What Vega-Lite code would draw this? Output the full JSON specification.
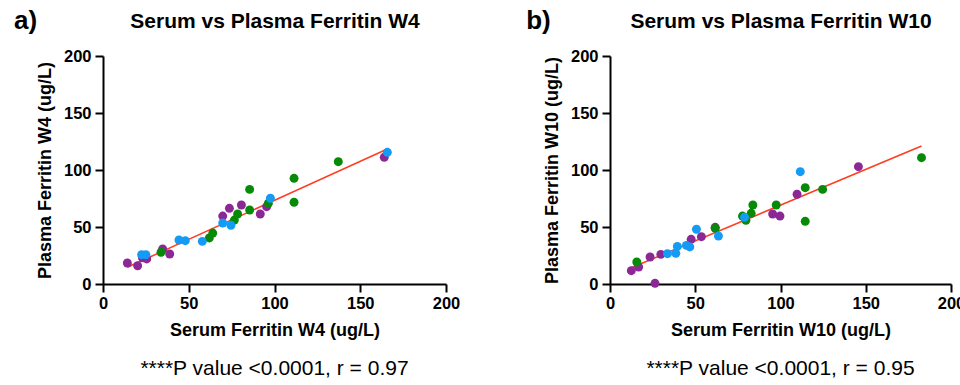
{
  "$schema": "https://vega.github.io/schema/vega-lite/v6.json",
  "padding": {"left": 13, "top": 7, "right": 0, "bottom": 0},
  "spacing": 65,
  "config": {
    "font": "Liberation Sans",
    "view": {"stroke": null},
    "axis": {
      "grid": false,
      "domainColor": "black",
      "domainWidth": 2,
      "tickColor": "black",
      "tickWidth": 2,
      "tickSize": 8,
      "labelColor": "black",
      "labelFont": "Liberation Sans",
      "labelFontSize": 16.5,
      "labelFontWeight": "bold",
      "labelFlush": false,
      "labelOverlap": false,
      "titleColor": "black",
      "titleFont": "Liberation Sans",
      "titleFontSize": 18,
      "titleFontWeight": "bold"
    },
    "title": {"font": "Liberation Sans", "color": "black"}
  },
  "datasets": {
    "w4": [
      {"group": "P", "serum": 14.2, "plasma": 18.4},
      {"group": "P", "serum": 20.2, "plasma": 16.0},
      {"group": "P", "serum": 23.0, "plasma": 23.0},
      {"group": "P", "serum": 25.5, "plasma": 22.0},
      {"group": "P", "serum": 34.8, "plasma": 30.7},
      {"group": "P", "serum": 38.9, "plasma": 26.3},
      {"group": "P", "serum": 69.8, "plasma": 59.6},
      {"group": "P", "serum": 73.7, "plasma": 66.4},
      {"group": "P", "serum": 80.7, "plasma": 69.3},
      {"group": "P", "serum": 91.7, "plasma": 61.4},
      {"group": "P", "serum": 95.4, "plasma": 67.8},
      {"group": "P", "serum": 164.0, "plasma": 111.1},
      {"group": "G", "serum": 33.8, "plasma": 27.8},
      {"group": "G", "serum": 62.0, "plasma": 40.4},
      {"group": "G", "serum": 64.0, "plasma": 44.7},
      {"group": "G", "serum": 76.6, "plasma": 56.1},
      {"group": "G", "serum": 78.5, "plasma": 61.4},
      {"group": "G", "serum": 85.5, "plasma": 83.0},
      {"group": "G", "serum": 85.5, "plasma": 64.9},
      {"group": "G", "serum": 96.4, "plasma": 70.8},
      {"group": "G", "serum": 111.4, "plasma": 92.7},
      {"group": "G", "serum": 111.4, "plasma": 71.7},
      {"group": "G", "serum": 137.2, "plasma": 107.3},
      {"group": "B", "serum": 22.5, "plasma": 25.7},
      {"group": "B", "serum": 25.0, "plasma": 25.7},
      {"group": "B", "serum": 44.3, "plasma": 38.6},
      {"group": "B", "serum": 48.0, "plasma": 38.0},
      {"group": "B", "serum": 57.9, "plasma": 37.4},
      {"group": "B", "serum": 69.8, "plasma": 53.5},
      {"group": "B", "serum": 74.6, "plasma": 51.5},
      {"group": "B", "serum": 97.6, "plasma": 75.2},
      {"group": "B", "serum": 165.8, "plasma": 115.5}
    ],
    "w10": [
      {"group": "P", "serum": 12.5, "plasma": 11.7},
      {"group": "P", "serum": 16.8, "plasma": 14.9},
      {"group": "P", "serum": 23.5, "plasma": 23.7},
      {"group": "P", "serum": 26.4, "plasma": 0.6},
      {"group": "P", "serum": 29.8, "plasma": 26.0},
      {"group": "P", "serum": 47.6, "plasma": 39.2},
      {"group": "P", "serum": 53.6, "plasma": 41.5},
      {"group": "P", "serum": 61.7, "plasma": 49.7},
      {"group": "P", "serum": 95.4, "plasma": 61.4},
      {"group": "P", "serum": 99.7, "plasma": 59.6},
      {"group": "P", "serum": 109.7, "plasma": 78.7},
      {"group": "P", "serum": 145.7, "plasma": 102.9},
      {"group": "G", "serum": 15.7, "plasma": 19.3},
      {"group": "G", "serum": 61.7, "plasma": 48.9},
      {"group": "G", "serum": 77.7, "plasma": 59.6},
      {"group": "G", "serum": 79.7, "plasma": 55.9},
      {"group": "G", "serum": 82.8, "plasma": 62.0},
      {"group": "G", "serum": 83.8, "plasma": 69.3},
      {"group": "G", "serum": 97.5, "plasma": 69.3},
      {"group": "G", "serum": 114.5, "plasma": 84.5},
      {"group": "G", "serum": 114.5, "plasma": 55.0},
      {"group": "G", "serum": 124.7, "plasma": 83.0},
      {"group": "G", "serum": 182.7, "plasma": 110.8},
      {"group": "B", "serum": 33.7, "plasma": 26.6},
      {"group": "B", "serum": 38.6, "plasma": 26.9},
      {"group": "B", "serum": 39.5, "plasma": 33.0},
      {"group": "B", "serum": 44.8, "plasma": 33.9},
      {"group": "B", "serum": 46.8, "plasma": 32.5},
      {"group": "B", "serum": 50.7, "plasma": 48.0},
      {"group": "B", "serum": 63.6, "plasma": 42.1},
      {"group": "B", "serum": 78.9, "plasma": 58.5},
      {"group": "B", "serum": 111.6, "plasma": 98.5}
    ],
    "fit4": [
      {"serum": 14.2, "plasma": 14.7},
      {"serum": 165.8, "plasma": 118.4}
    ],
    "fit10": [
      {"serum": 12.5, "plasma": 14.3},
      {"serum": 182.7, "plasma": 121.0}
    ]
  },
  "hconcat": [
    {
      "width": 343,
      "height": 228,
      "title": {"text": "****P value <0.0001, r = 0.97", "orient": "bottom", "anchor": "middle", "frame": "group", "fontSize": 21, "fontWeight": "normal", "offset": 18},
      "resolve": {"axis": {"x": "independent", "y": "independent"}},
      "layer": [
        {
          "data": {"name": "fit4"},
          "mark": {"type": "line", "color": "#FF3C1E", "strokeWidth": 1.5},
          "encoding": {
            "x": {"field": "serum", "type": "quantitative", "scale": {"domain": [0, 200], "nice": false},
                  "axis": {"orient": "top", "title": "Serum vs Plasma Ferritin W4", "domain": false, "ticks": false, "labels": false, "titleFontSize": 21, "titleY": -29, "titleBaseline": "alphabetic"}},
            "y": {"field": "plasma", "type": "quantitative", "scale": {"domain": [0, 200], "nice": false},
                  "axis": {"orient": "right", "title": "a)", "domain": false, "ticks": false, "labels": false, "titleAngle": 0, "titleFontSize": 26, "titleX": -432.5, "titleY": -28, "titleAlign": "left", "titleBaseline": "alphabetic"}}
          }
        },
        {
          "data": {"name": "w4"},
          "mark": {"type": "circle", "size": 80, "opacity": 1},
          "encoding": {
            "x": {"field": "serum", "type": "quantitative", "scale": {"domain": [0, 200], "nice": false},
                  "axis": {"title": "Serum Ferritin W4 (ug/L)", "values": [0, 50, 100, 150, 200], "labelPadding": 3, "titlePadding": 10}},
            "y": {"field": "plasma", "type": "quantitative", "scale": {"domain": [0, 200], "nice": false},
                  "axis": {"title": "Plasma Ferritin W4 (ug/L)", "values": [0, 50, 100, 150, 200], "labelPadding": 4, "titlePadding": 9}},
            "color": {"field": "group", "type": "nominal", "legend": null,
                      "scale": {"domain": ["P", "G", "B"], "range": ["#8C2896", "#078A07", "#149BF5"]}}
          }
        }
      ]
    },
    {
      "width": 341,
      "height": 228,
      "title": {"text": "****P value <0.0001, r = 0.95", "orient": "bottom", "anchor": "middle", "frame": "group", "fontSize": 21, "fontWeight": "normal", "offset": 18},
      "resolve": {"axis": {"x": "independent", "y": "independent"}},
      "layer": [
        {
          "data": {"name": "fit10"},
          "mark": {"type": "line", "color": "#FF3C1E", "strokeWidth": 1.5},
          "encoding": {
            "x": {"field": "serum", "type": "quantitative", "scale": {"domain": [0, 200], "nice": false},
                  "axis": {"orient": "top", "title": "Serum vs Plasma Ferritin W10", "domain": false, "ticks": false, "labels": false, "titleFontSize": 21, "titleY": -29, "titleBaseline": "alphabetic"}},
            "y": {"field": "plasma", "type": "quantitative", "scale": {"domain": [0, 200], "nice": false},
                  "axis": {"orient": "right", "title": "b)", "domain": false, "ticks": false, "labels": false, "titleAngle": 0, "titleFontSize": 26, "titleX": -425.3, "titleY": -28, "titleAlign": "left", "titleBaseline": "alphabetic"}}
          }
        },
        {
          "data": {"name": "w10"},
          "mark": {"type": "circle", "size": 80, "opacity": 1},
          "encoding": {
            "x": {"field": "serum", "type": "quantitative", "scale": {"domain": [0, 200], "nice": false},
                  "axis": {"title": "Serum Ferritin W10 (ug/L)", "values": [0, 50, 100, 150, 200], "labelPadding": 3, "titlePadding": 10}},
            "y": {"field": "plasma", "type": "quantitative", "scale": {"domain": [0, 200], "nice": false},
                  "axis": {"title": "Plasma Ferritin W10 (ug/L)", "values": [0, 50, 100, 150, 200], "labelPadding": 4, "titlePadding": 9}},
            "color": {"field": "group", "type": "nominal", "legend": null,
                      "scale": {"domain": ["P", "G", "B"], "range": ["#8C2896", "#078A07", "#149BF5"]}}
          }
        }
      ]
    }
  ]
}
